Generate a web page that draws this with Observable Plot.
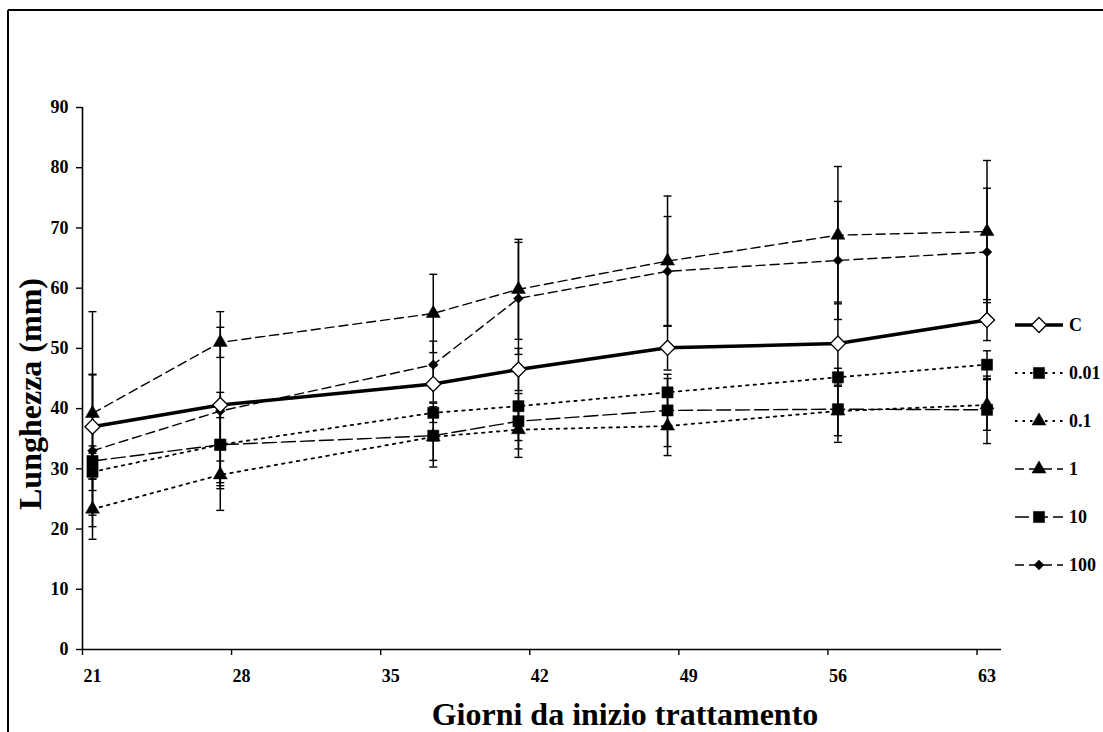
<!DOCTYPE html>
<html>
<head>
<meta charset="utf-8">
<script src="https://cdn.jsdelivr.net/npm/d3@7"></script>
<script src="https://cdn.jsdelivr.net/npm/@observablehq/plot@0.6"></script>
<style>
  html, body { margin: 0; padding: 0; background: white; }
  #chart svg { display: block; }
</style>
</head>
<body>
<div id="chart"></div>
<script>
// ---- data ----
const days = [21, 27, 37, 41, 48, 56, 63];
const xTicks = [21, 28, 35, 42, 49, 56, 63];
const yTicks = [0, 10, 20, 30, 40, 50, 60, 70, 80, 90];

const seriesNames = ["C", "0.01", "0.1", "1", "10", "100"];

const meanC    = [37.0, 40.6, 44.1, 46.5, 50.1, 50.8, 54.7];
const sdC      = [8.7, 2.1, 3.0, 3.5, 3.7, 6.9, 3.4];
const mean001  = [29.5, 34.0, 39.3, 40.4, 42.7, 45.2, 47.3];
const sd001    = [3.1, 6.3, 1.6, 5.7, 2.3, 1.5, 2.3];
const mean01   = [23.3, 29.0, 35.3, 36.5, 37.1, 39.6, 40.6];
const sd01     = [5.0, 2.3, 5.0, 4.6, 4.9, 5.2, 4.2];
const mean1    = [39.2, 51.0, 55.8, 59.8, 64.5, 68.8, 69.4];
const sd1      = [16.9, 2.5, 6.5, 8.3, 10.8, 11.4, 11.8];
const mean10   = [31.3, 34.0, 35.5, 37.9, 39.7, 39.9, 39.8];
const sd10     = [2.5, 6.8, 4.1, 4.6, 6.0, 4.4, 5.6];
const mean100  = [33.0, 39.6, 47.3, 58.3, 62.8, 64.6, 66.0];
const sd100    = [12.6, 16.5, 3.9, 9.3, 9.1, 9.8, 10.6];

const means = [meanC, mean001, mean01, mean1, mean10, mean100];
const sds   = [sdC, sd001, sd01, sd1, sd10, sd100];

// ---- styles ----
const FONT = "'Liberation Serif', 'Times New Roman', serif";
const styles = {
  "C":    {symbol: "diamond2", r: 6.8, fill: "white", stroke: "black", sw: 3.5, dash: null},
  "0.01": {symbol: "square",   r: 6.3, fill: "black", stroke: "black", sw: 1.8, dash: "2.5,5"},
  "0.1":  {symbol: "triangle", r: 5.2, fill: "black", stroke: "black", sw: 1.8, dash: "2.5,5"},
  "1":    {symbol: "triangle", r: 5.2, fill: "black", stroke: "black", sw: 1.4, dash: "9,5"},
  "10":   {symbol: "square",   r: 6.3, fill: "black", stroke: "black", sw: 1.4, dash: "14,5"},
  "100":  {symbol: "diamond2", r: 4.4, fill: "black", stroke: "black", sw: 1.4, dash: "9,5"}
};

const rows = [];
seriesNames.forEach((s, i) => {
  days.forEach((d, j) => rows.push({series: s, day: d, mean: means[i][j], sd: sds[i][j]}));
});

const capSymbol = {draw(ctx) { ctx.moveTo(-4, 0); ctx.lineTo(4, 0); }};
const shift = 10;

const marks = [
  Plot.ruleY([0], {stroke: "black", strokeWidth: 1.6}),
  Plot.ruleX([21], {stroke: "black", strokeWidth: 1.6}),
  Plot.axisY({ticks: yTicks, tickSize: 6, tickPadding: 8, label: null, strokeWidth: 1.4}),
  Plot.axisX({ticks: xTicks, tickSize: 6, label: null, fill: "none", strokeWidth: 1.4, tickFormat: () => ""}),
  Plot.axisX({ticks: xTicks, tickSize: 0, tickPadding: 20, dx: shift, label: null}),
  // error bars
  Plot.ruleX(rows, {x: "day", y1: d => d.mean - d.sd, y2: d => d.mean + d.sd, dx: shift, stroke: "black", strokeWidth: 1.5}),
  Plot.dot(rows, {x: "day", y: d => d.mean + d.sd, dx: shift, symbol: capSymbol, fill: "none", stroke: "black", strokeWidth: 1.4}),
  Plot.dot(rows, {x: "day", y: d => d.mean - d.sd, dx: shift, symbol: capSymbol, fill: "none", stroke: "black", strokeWidth: 1.4})
];

// lines (C last so it's on top)
["100", "10", "1", "0.1", "0.01", "C"].forEach(s => {
  const st = styles[s];
  marks.push(Plot.line(rows.filter(d => d.series === s), {
    x: "day", y: "mean", dx: shift, stroke: "black", strokeWidth: st.sw,
    strokeDasharray: st.dash || undefined
  }));
});
["100", "10", "1", "0.1", "0.01", "C"].forEach(s => {
  const st = styles[s];
  marks.push(Plot.dot(rows.filter(d => d.series === s), {
    x: "day", y: "mean", dx: shift, symbol: st.symbol, r: st.r,
    fill: st.fill, stroke: st.stroke, strokeWidth: s === "C" ? 1.3 : 0.5
  }));
});

const chart = Plot.plot({
  width: 1103,
  height: 732,
  marginLeft: 82,
  marginRight: 102,
  marginTop: 107,
  marginBottom: 83,
  x: {domain: [21, 64.15]},
  y: {domain: [0, 90]},
  style: {fontFamily: FONT, fontWeight: "bold", fontSize: "18px", background: "white", color: "black"},
  marks
});

document.getElementById("chart").appendChild(chart);

const svg = d3.select(chart);

// enforce tick-label font
svg.selectAll("g[aria-label$='tick label'] text, g[aria-label$='tick label']")
  .attr("font-size", 18).attr("font-weight", "bold").attr("font-family", FONT);

// outer frame (top and left borders)
svg.append("line").attr("x1", 8).attr("x2", 1103).attr("y1", 10).attr("y2", 10)
  .attr("stroke", "black").attr("stroke-width", 2);
svg.append("line").attr("x1", 8).attr("x2", 8).attr("y1", 10).attr("y2", 732)
  .attr("stroke", "black").attr("stroke-width", 2);

// axis titles
svg.append("text")
  .attr("transform", "translate(41,394) rotate(-90)")
  .attr("text-anchor", "middle")
  .attr("font-family", FONT)
  .attr("font-weight", "bold")
  .attr("font-size", 32)
  .text("Lunghezza (mm)");

svg.append("text")
  .attr("x", 625).attr("y", 725)
  .attr("text-anchor", "middle")
  .attr("font-family", FONT)
  .attr("font-weight", "bold")
  .attr("font-size", 32)
  .text("Giorni da inizio trattamento");

// legend
const symMap = {diamond2: d3.symbolDiamond2, square: d3.symbolSquare, triangle: d3.symbolTriangle};
const leg = svg.append("g");
seriesNames.forEach((s, i) => {
  const st = styles[s];
  const y = 325 + i * 48;
  const g = leg.append("g").attr("transform", `translate(0,${y})`);
  g.append("line").attr("x1", 1015).attr("x2", 1063).attr("y1", 0).attr("y2", 0)
    .attr("stroke", "black").attr("stroke-width", st.sw)
    .attr("stroke-dasharray", st.dash || null);
  g.append("path")
    .attr("transform", "translate(1039,0)")
    .attr("d", d3.symbol(symMap[st.symbol], Math.PI * st.r * st.r)())
    .attr("fill", st.fill).attr("stroke", "black").attr("stroke-width", s === "C" ? 1.3 : 0.5);
  g.append("text").attr("x", 1069).attr("y", 0).attr("dy", "0.35em")
    .attr("text-anchor", "start")
    .attr("font-family", FONT)
    .attr("font-weight", "bold").attr("font-size", 18)
    .text(s);
});
</script>
</body>
</html>
